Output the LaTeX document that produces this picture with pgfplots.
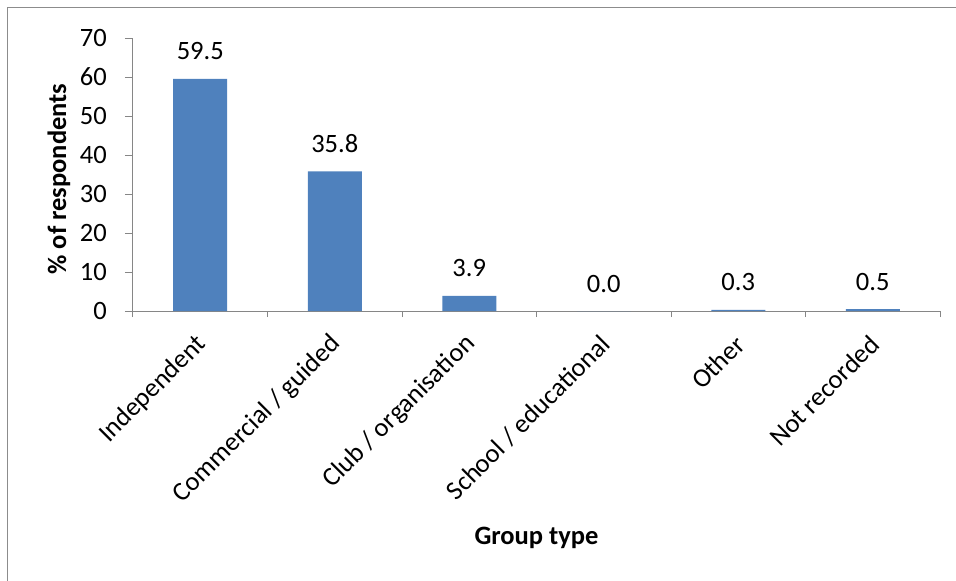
\documentclass[border=0pt]{standalone}
\usepackage{pgfplots}
\pgfplotsset{compat=1.18}
\usepackage{fontspec}
\setmainfont{Carlito}
\definecolor{barblue}{HTML}{4F81BD}
\definecolor{axisgray}{HTML}{868686}
\definecolor{framegray}{HTML}{8C8C8C}
\newcommand\lab{\fontsize{26.5bp}{31bp}\selectfont}

\begin{document}
\begin{tikzpicture}
% the axis box has its lower left corner at the origin
\useasboundingbox (-133bp,-270bp) rectangle (823bp,311bp);
% chart frame (right and bottom edges fall off the page)
\draw[framegray, line width=1.2bp] (-125.5bp,-290bp) -- (-125.5bp,303.5bp) -- (850bp,303.5bp);
\begin{axis}[
  at={(0,0)}, anchor=south west,
  scale only axis, width=807bp, height=273bp,
  xmin=-0.5, xmax=5.5, ymin=0, ymax=70,
  ytick={0,10,...,70},
  xtick={0,...,5},
  xticklabels={Independent, Commercial / guided, Club / organisation,
               School / educational, Other, Not recorded},
  minor xtick={-0.5,0.5,...,5.5},
  axis x line*=bottom, axis y line*=left,
  axis line style={draw=axisgray, line width=1bp, -},
  tick align=outside, tick pos=left,
  major tick length=8bp, minor tick length=6bp,
  major x tick style={draw=none},
  every tick/.style={draw=axisgray, line width=1bp},
  minor x tick style={draw=axisgray, line width=1bp},
  ytick style={draw=axisgray, line width=1bp},
  /pgf/number format/assume math mode=true,
  yticklabel style={font=\lab, inner sep=0pt, xshift=-18bp},
  xticklabel style={font=\lab, xshift=2bp, yshift=-21bp, rotate=45, anchor=east, inner sep=0pt},
  xlabel={\bfseries Group type},
  ylabel={\bfseries \% of respondents},
  label style={font=\lab},
  xlabel style={at={(axis description cs:0.5,-0.8315)}, anchor=center},
  ylabel style={at={(axis description cs:-0.0917,0.4835)}, anchor=center, rotate=0},
  ybar, bar width=54bp,
  nodes near coords={\pgfmathprintnumber[fixed,fixed zerofill,precision=1]{\pgfplotspointmeta}},
  every node near coord/.append style={font=\lab, text=black, anchor=base, yshift=19bp, inner sep=0pt},
  clip=false,
]
\addplot[fill=barblue, draw=none] coordinates {
  (0,59.5) (1,35.8) (2,3.9) (3,0.0) (4,0.3) (5,0.5)
};
\end{axis}
\end{tikzpicture}
\end{document}
